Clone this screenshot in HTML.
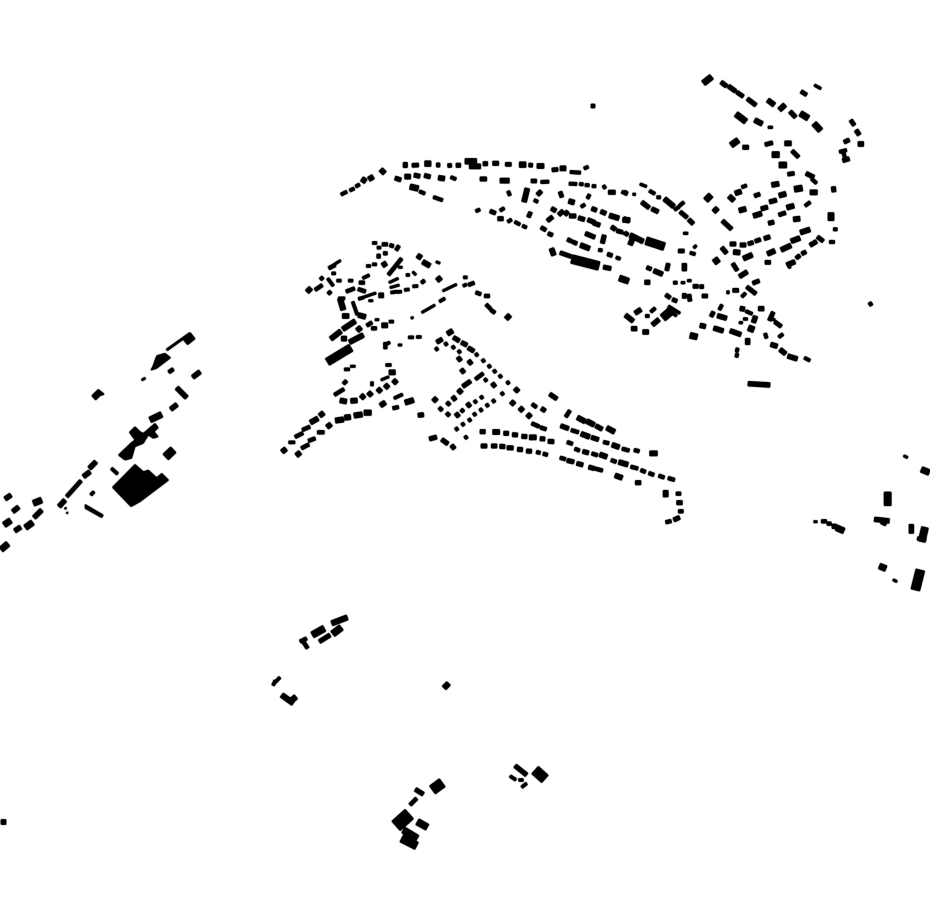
<!DOCTYPE html>
<html><head><meta charset="utf-8"><style>html,body{margin:0;padding:0;background:#fff;width:930px;height:924px;overflow:hidden}svg{display:block}path{fill:none;stroke:#000}path.f{fill:#000;stroke:none}</style></head><body>
<svg width="930" height="924" viewBox="0 0 930 924" xmlns="http://www.w3.org/2000/svg">
<defs><filter id="d" x="0" y="0" width="930" height="924" filterUnits="userSpaceOnUse" color-interpolation-filters="sRGB"><feGaussianBlur stdDeviation="0.55"/><feComponentTransfer><feFuncA type="linear" slope="2.6" intercept="0"/></feComponentTransfer></filter></defs>
<g filter="url(#d)">
<g transform="translate(330,140) scale(.33333)">
<path stroke-width="10" d="M33 164L51 155M59 152L73 145M77 140L89 133M720 96L752 98M717 131L741 132M748 132L760 133M765 135L778 136M786 138L798 139M820 136L826 146M762 86L775 80M310 171L338 181M632 126L657 125M268 154L285 161M362 111L378 118M437 214L450 208M510 212L523 204M533 246L545 238M554 245L570 254M577 257L590 263M534 153L540 167M612 180L624 186M753 201L765 193M772 176L779 163M805 330L817 331M858 352L871 357"/>
<path stroke-width="12" d="M246 76L266 75M353 77L365 76M666 90L684 88M603 123L620 123M690 155L696 172M882 155L892 161M654 280L668 286M633 262L648 271M480 213L497 220M595 232L602 216M712 298L725 304M727 305L741 311M832 342L847 347M860 272L878 277M884 278L894 285M690 338L724 350M596 75L608 76M526 73L544 73"/>
<path stroke-width="13" d="M195 114L213 120M252 105L270 109M283 106L301 111M450 117L470 117M488 70L506 70M319 75L330 75M226 67L226 83M378 76L392 76M459 71L473 71M664 205L678 213M745 233L764 239M785 205L800 211M812 214L828 221M652 243L668 230M686 225L700 212M704 225L714 214M773 239L795 248M790 249L810 256M820 381L843 386M766 280L795 292M823 285L817 310M844 260L857 269M503 236L520 236M835 157L856 157M622 165L634 153M718 228L738 228"/>
<path stroke-width="15" d="M97 127L106 114M116 118L130 110M152 88L164 100M224 110L242 110M325 113L344 116M418 79L452 79M510 122L538 122M621 78L642 78M690 85L708 85M592 145L582 186M716 183L733 188M838 226L867 235M880 236L898 243M751 315L779 326M664 325L672 346"/>
<path stroke-width="17" d="M405 64L440 64M284 71L303 71M240 140L265 146M568 74L588 74"/>
<path stroke-width="26" d="M725 357L807 378"/>
</g>
<g transform="translate(620,70) scale(.33333)">
<path stroke-width="8" d="M583 45L603 56M60 342L80 350M38 373L47 373M190 490L204 490M10 490L25 492M444 172L458 172M221 534L229 526"/>
<path stroke-width="10" d="M5 365L22 373M88 362L105 372M110 382L122 382M163 420L178 410M178 408L192 396M365 352L380 346M640 478L652 478M628 516L644 516M574 326L590 340M555 408L571 396M668 240L677 270M658 246L680 240M210 548L226 553"/>
<path stroke-width="12" d="M350 66L370 80M543 64L560 75M435 224L458 218M503 313L523 310M692 150L703 166M672 217L688 209M180 425L202 443M516 242L536 262M175 543L193 543M405 514L422 508M384 522L400 517M592 500L610 514M476 435L497 428M403 378L420 372M545 552L558 545M528 565L540 556"/>
<path stroke-width="13" d="M303 36L320 49M325 48L347 64M382 86L408 106M510 124L527 142M95 416L115 426M65 396L88 414M206 448L220 462M368 232L386 232M423 417L443 411M448 396L470 390M558 310L582 322M708 180L718 195M330 522L348 522M305 532L320 550M360 525L378 525M432 506L450 500M445 460L462 456M640 350L642 366M668 272L688 266M570 526L590 514M307 452L335 478"/>
<path stroke-width="15" d="M443 90L463 105M478 120L495 104M404 150L427 162M133 386L162 410M494 220L514 220M455 345L477 341M357 422L378 416M400 438L425 430M500 413L522 407M8 450L30 450M30 495L70 515M40 500L30 525M340 546L360 548M370 566L397 554M442 552L465 542M483 540L513 526M513 514L540 504M541 488L570 478M714 222L731 222M477 377L498 371M345 370L364 364M327 378L342 392M520 448L540 446M570 367L592 367M281 426L293 414"/>
<path stroke-width="18" d="M250 40L275 20M348 132L378 155M582 160L602 182M541 130L565 145M477 285L500 285M333 226L355 210M523 358L547 354M456 254L478 254M633 428L633 452M257 391L273 375"/>
<path stroke-width="24" d="M78 512L133 530"/>
</g>
<g transform="translate(610,230) scale(.33333)">
<path stroke-width="8" d="M175 228L210 250M170 237L200 258M400 267L413 267M387 278L398 278M480 265L495 270M535 100L540 115M213 158L225 158M232 152L244 152"/>
<path stroke-width="10" d="M383 354L380 366M382 370L379 382M407 243L427 252M122 246L136 234M106 258L118 258M190 158L202 158M328 240L336 224M350 187L358 187M395 201L407 189M506 322L519 312M583 383L600 392M465 310L470 325"/>
<path stroke-width="12" d="M465 97L482 97M175 100L170 122M110 112L124 118M368 100L382 122M249 169L265 169M269 170L281 170M276 198L293 198M223 190L223 205M237 193L240 214M167 194L181 204M187 208L201 214M303 260L311 245M428 160L448 152M368 181L386 181M410 170L438 192M490 246L478 272M494 275L514 290"/>
<path stroke-width="14" d="M223 100L223 123M131 122L158 133M104 157L120 157M75 250L93 238M390 235L404 238M322 257L350 265M46 255L70 274M127 285L147 268M64 296L81 296M98 306L116 306M270 286L287 290M311 294L340 303M445 236L462 236M437 258L430 278M413 325L413 344M482 343L502 349M510 358L527 372M533 378L562 387M388 140L412 125M530 105L555 95M360 302L393 314"/>
<path stroke-width="18" d="M28 144L56 154M312 98L326 87M420 305L427 288M240 316L262 321"/>
<path stroke-width="24" d="M158 264L183 243"/>
<path stroke-width="14" d="M414 461L480 465"/>
</g>
<g transform="translate(280,235) scale(.33333)">
<path stroke-width="7" d="M468 80L480 85M148 98L182 76M355 97L367 97M398 110L408 120M327 143L355 130M330 158L358 150M252 186L288 174M266 197L279 197M285 254L297 254M354 330L366 330M211 394L226 394M303 435L327 425M393 250L400 247M425 233L465 210M488 168L530 148"/>
<path stroke-width="9" d="M277 24L291 24M291 38L303 38M259 93L272 93M277 88L290 88M378 120L389 120M332 173L350 170M350 171L365 170M373 165L388 163M398 154L414 153M550 127L562 127M549 153L560 148M143 130L160 153M155 115L167 115M170 137L184 137M205 137L219 137M248 130L268 120M235 192L252 187M218 200L232 240M175 190L195 190M193 403L209 403M317 390L334 390M276 440L276 453M342 490L368 478M327 260L341 260M478 200L495 190M385 307L401 307M409 306L424 306M26 622L45 622M312 330L330 322"/>
<path stroke-width="11" d="M306 28L323 28M329 30L341 34M348 46L357 32M296 57L296 70M310 55L322 55M325 120L365 70M424 144L434 136M121 134L129 126M105 165L127 150M144 177L153 169M146 100L166 90M198 170L224 160M237 143L254 143M234 162L257 170M260 272L276 262M274 280L290 280M316 322L316 342M190 447L200 437M163 480L192 462M303 507L314 507M338 520L356 516M112 592L133 592M85 618L106 610M64 640L87 628M45 606L69 594M67 585L90 575M618 208L632 222M632 224L645 234M587 172L603 178M613 183L629 183M565 150L583 143"/>
<path stroke-width="15" d="M412 61L424 69M428 80L450 93M471 137L483 127M307 92L319 84M296 181L311 181M187 243L207 243M188 283L226 258M152 312L183 288M231 287L243 277M208 322L250 300M305 271L323 271M184 311L200 311M327 412L346 412M340 445L350 435M315 459L325 449M293 471L303 461M301 512L316 502M265 482L275 472M243 490L253 480M119 543L131 533M91 563L114 550M141 577L153 567M6 651L18 641M49 662L61 652M678 252L690 240M81 171L93 159M235 240L257 246M180 496L200 500M212 498L232 496"/>
<path stroke-width="16" d="M180 190L190 225M375 503L401 495M252 533L274 533M222 542L247 538M194 548L212 546M166 557L191 553"/>
<path stroke-width="24" d="M142 381L213 338"/>
<path stroke-width="13" d="M414 541L431 539"/>
</g>
<g transform="translate(420,330) scale(.33333)">
<path stroke-width="11" d="M166 77L174 71M186 95L194 89M204 112L212 106M220 127L228 121M237 142L245 136M193 153L201 147M243 194L251 188M181 205L189 199M162 218L170 212M198 229L206 223M134 325L142 319M1 258L9 252M74 45L82 39M96 55L104 49M114 68L122 62M46 60L54 54M260 161L268 155M145 273L153 267M160 256L168 250M125 286L133 280M179 243L187 237M106 300L114 294M217 216L225 210"/>
<path stroke-width="11" d="M166 148L190 130M335 280L358 290M361 292L379 298M336 222L350 232M123 246L131 238M441 336L458 342M464 356L479 362M515 370L533 376M573 390L589 396M632 410L654 416M662 420L677 426M686 429L702 435M716 437L733 443M744 444L764 450M768 491L783 491M349 366L361 369M369 371L383 375M550 336L567 340M606 356L628 362M526 416L548 422M420 383L437 388M642 360L658 364M437 261L450 241M453 300L476 307M775 544L790 544M737 577L754 573"/>
<path stroke-width="13" d="M50 37L67 27M100 22L118 33M124 37L141 46M144 53L162 64M128 170L152 153M81 225L89 217M58 241L66 233M80 257L88 249M28 327L50 321M65 328L84 342M180 305L196 305M251 310L266 310M277 314L293 315M305 319L321 320M360 326L375 327M384 334L402 335M183 348L201 348M214 348L231 348M239 349L255 350M261 353L280 354M292 358L308 359M319 363L335 364M488 364L506 369M422 287L446 296M441 391L462 396M470 400L489 405M506 411L524 416M646 458L663 458M770 518L787 518M761 570L779 562M527 287L547 298M514 322L536 329M389 192L411 207M364 235L376 243"/>
<path stroke-width="15" d="M82 12L98 2M113 91L123 83M145 101L155 93M123 127L133 119M115 189L125 179M97 209L107 201M40 204L50 214M273 214L283 224M299 233L309 243M322 252L332 262M285 185L295 175M141 229L151 221M107 259L117 251M472 262L496 275M500 273L523 285M560 293L584 306M483 311L509 321M576 344L598 352M539 373L561 381M596 396L624 404M585 436L607 444M218 306L239 306M328 322L349 322M689 370L712 370M737 481L737 501M94 355L104 347M216 169L226 161"/>
</g>
<g transform="translate(0,325) scale(.33333)">
<path class="f" d="M405 418L430 440L445 435L470 458L485 445L506 465L440 515L420 530L393 545L337 487ZM470 92L495 85L512 98L470 130L452 136L458 125ZM275 212L295 193L313 208L300 212L287 225ZM388 322L405 305L420 320L430 325L465 295L475 308L462 320L475 335L460 340L445 330L430 355L405 365L395 400L375 405L355 390L395 352L405 345ZM255 538L310 570L305 578L255 550Z"/>
<path stroke-width="6" d="M500 75L570 25M425 165L436 159M195 548L198 552M200 562L203 565"/>
<path stroke-width="9" d="M334 430L353 447M272 510L282 500"/>
<path stroke-width="11" d="M506 142L520 132M200 515L243 467"/>
<path stroke-width="14" d="M578 157L600 140M530 188L560 218M512 253L531 238M268 430L288 410M250 455L270 440M177 545L195 525M15 522L33 510M38 560L56 546M44 618L62 606M102 578L125 555"/>
<path stroke-width="18" d="M450 285L485 268M100 535L125 525M12 600L32 586M76 608L98 592M3 674L24 656"/>
<path stroke-width="24" d="M555 50L578 32M497 396L520 374"/>
</g>
<g transform="translate(800,440) scale(.33333)">
<path stroke-width="7" d="M311 47L323 53M41 245L52 245M279 419L291 425"/>
<path stroke-width="11" d="M64 244L80 244M81 251L94 251M352 295L378 300"/>
<path stroke-width="14" d="M96 259L110 259M334 253L334 280M223 238L268 243"/>
<path stroke-width="18" d="M364 88L388 98M109 263L132 273M245 243L260 250M238 378L258 386"/>
<path stroke-width="21" d="M263 156L263 197M375 262L365 305"/>
<path stroke-width="27" d="M361 390L346 450"/>
</g>
<g transform="translate(260,600) scale(.33333)">
<path stroke-width="9" d="M47 245L60 232M40 245L50 245M37 250L45 255M750 528L768 540M776 540L790 540M785 562L800 550"/>
<path stroke-width="11" d="M120 125L140 115M130 125L143 145M450 615L470 595"/>
<path stroke-width="13" d="M178 125L210 105M466 568L490 583M765 497L800 525"/>
<path stroke-width="16" d="M215 70L262 52M65 285L100 310M90 305L108 290M552 264L566 250"/>
<path stroke-width="20" d="M157 105L193 85M218 102L244 82M472 665L502 682M430 690L472 715"/>
<path stroke-width="24" d="M425 715L470 738"/>
<path stroke-width="30" d="M517 570L547 548M825 510L855 537"/>
<path stroke-width="38" d="M408 678L448 642"/>
</g>
<path stroke-width="4" d="M591 106L595 106M869 305L872 303"/>
<path stroke-width="5" d="M1 822L6 822"/>
</g>
</svg>
</body></html>
